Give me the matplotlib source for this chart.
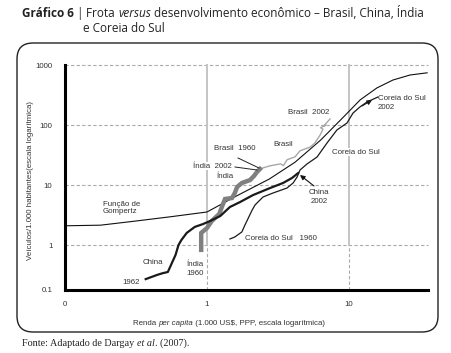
import matplotlib
matplotlib.use("Agg")
import matplotlib.pyplot as plt
from matplotlib.patches import FancyBboxPatch
from matplotlib.transforms import IdentityTransform
from matplotlib.lines import Line2D

# ---------------- data ----------------
gompertz_x = [0.1, 0.178, 0.311, 0.55, 1.0, 1.62, 2.75, 4.17, 6.31, 9.12, 12.0, 15.7, 20.4, 26.9, 35.5]
gompertz_y = [2.09, 2.14, 2.5, 2.95, 3.55, 6.6, 12.6, 24.0, 56.0, 135, 263, 414, 562, 681, 741]

brasil_x = [2.36, 2.78, 3.30, 3.45, 3.66, 4.17, 4.52, 5.31, 5.75, 6.25, 6.56, 6.30, 6.89, 6.60, 7.35]
brasil_y = [18.6, 20.9, 22.5, 21.0, 26.3, 29.5, 37.2, 42.7, 50.1, 67.6, 85.1, 90.0, 100, 95.0, 126]

india_x = [0.91, 0.91, 1.0, 1.08, 1.22, 1.28, 1.34, 1.50, 1.57, 1.63, 1.76, 2.01, 2.14, 2.25, 2.36]
india_y = [0.83, 1.59, 1.92, 2.51, 3.29, 4.47, 5.85, 6.07, 7.36, 9.27, 10.8, 12.1, 14.1, 16.5, 18.5]

china_x = [0.37, 0.45, 0.49, 0.53, 0.57, 0.60, 0.63, 0.66, 0.72, 0.82, 0.94, 1.05,
           1.24, 1.45, 1.71, 2.11, 2.78, 3.43, 3.97, 4.38]
china_y = [0.27, 0.32, 0.34, 0.355, 0.52, 0.68, 1.0, 1.21, 1.59, 2.0, 2.24, 2.51,
           3.04, 4.3, 5.2, 6.8, 8.9, 10.8, 13.1, 15.8]

coreia_x = [1.45, 1.57, 1.76, 1.85, 2.08, 2.18, 2.48, 2.92, 3.66, 4.04, 4.31, 4.52,
            5.06, 5.96, 7.00, 8.22, 9.68, 10.67, 11.94, 13.40, 16.0]
coreia_y = [1.26, 1.36, 1.65, 2.15, 3.83, 4.65, 6.31, 7.36, 8.91, 10.8, 13.6, 17.8,
            22.4, 29.3, 50.1, 82.6, 108, 158, 200, 242, 293]

x_ticks = [0.1, 1, 10]
x_ticklabels = ["0", "1", "10"]
y_ticks = [10 ** -0.75, 1, 10, 100, 1000]
y_ticklabels = ["0.1", "1", "10", "100", "1000"]

W, H = 452, 353
fig = plt.figure(figsize=(W / 100, H / 100), dpi=100)
fig.patch.set_facecolor("white")


def fx(px):
    return px / W


def fy(py):
    return 1 - py / H


LAB = dict(family="Liberation Sans", fontsize=5.7, color="#333333")

# ---------------- axes ----------------
ax_l, ax_r, ax_t, ax_b = 65, 428, 65, 290
ax = fig.add_axes([fx(ax_l), fy(ax_b), (ax_r - ax_l) / W, (ax_b - ax_t) / H])
ax.set_xscale("log")
ax.set_yscale("log")
ax.set_xlim(0.1, 10 ** ((ax_r - 207) / 142))
ax.set_ylim(10 ** -0.75, 1000)
ax.set_xticks(x_ticks)
ax.set_xticklabels(x_ticklabels)
ax.set_yticks(y_ticks)
ax.set_yticklabels(y_ticklabels)
ax.minorticks_off()
ax.tick_params(length=0, labelsize=5.7, labelcolor="#333333")
ax.tick_params(axis="y", pad=9)
ax.tick_params(axis="x", pad=8)
for lbl in ax.get_xticklabels() + ax.get_yticklabels():
    lbl.set_family("Liberation Sans")
for s in ["top", "right"]:
    ax.spines[s].set_visible(False)
for s in ["left", "bottom"]:
    ax.spines[s].set_linewidth(2.2)
    ax.spines[s].set_color("black")
    ax.spines[s].set_zorder(10)

ymin = 10 ** -0.75
for yv in [1, 10, 100, 1000]:
    ax.axhline(yv, color="#aaaaaa", lw=0.8, ls=(0, (3, 2)), zorder=1, clip_on=False)
for xv in [1, 10]:
    ax.plot([xv, xv], [1, 1000], color="#c4c4c4", lw=1.4, zorder=1, clip_on=False)
    ax.plot([xv, xv], [ymin, 1], color="#aaaaaa", lw=0.8, ls=(0, (3, 2)), zorder=1)

ax.plot(gompertz_x, gompertz_y, color="#111111", lw=0.8, zorder=3)
ax.plot(brasil_x, brasil_y, color="#a8a8a8", lw=1.0, zorder=3)
ax.plot(india_x, india_y, color="#808080", lw=3.2, zorder=4, solid_joinstyle="miter")
ax.plot(china_x, china_y, color="#1a1a1a", lw=1.6, zorder=5)
ax.plot(coreia_x, coreia_y, color="#1a1a1a", lw=0.9, zorder=5)

# ---------------- labels inside plot ----------------
def lab(x, y, s, ha="left", bg=True, **kw):
    d = dict(LAB)
    d.update(kw)
    t = fig.text(fx(x), fy(y), s, ha=ha, va="center", zorder=20, **d)
    if bg:
        t.set_bbox(dict(facecolor="white", edgecolor="none", pad=0.4))
    return t


lab(288, 112, "Brasil  2002")
lab(273, 144, "Brasil")
lab(214, 149, "Brasil  1960")
lab(193, 166, "Índia  2002")
lab(216, 177, "Índia")
fig.text(fx(103), fy(208), "Função de\nGompertz", ha="left", va="center",
         linespacing=1.15, **LAB)
lab(143, 263, "China", bg=False)
lab(122, 282, "1962", bg=False)
t = fig.text(fx(195), fy(269), "Índia\n1960", ha="center", va="center",
             linespacing=1.35, zorder=20, **LAB)
t.set_bbox(dict(facecolor="white", edgecolor="none", pad=0.3))
lab(245, 238, "Coreia do Sul   1960")
fig.text(fx(319), fy(197), "China\n2002", ha="center", va="center",
         linespacing=1.35, zorder=20, **LAB)
lab(332, 152, "Coreia do Sul")
fig.text(fx(378), fy(103), "Coreia do Sul\n2002", ha="left", va="center",
         linespacing=1.35, zorder=20, **LAB)

# leader lines and arrows (figure pixel coordinates)
for (x0, y0, x1, y1) in [(238, 158, 259, 168), (235, 167, 257, 170)]:
    fig.add_artist(Line2D([fx(x0), fx(x1)], [fy(y0), fy(y1)], color="#222222",
                          lw=0.7, transform=fig.transFigure, zorder=20))
ax.annotate("", xy=(fx(300), fy(175)), xycoords="figure fraction",
            xytext=(fx(314), fy(186)), textcoords="figure fraction",
            arrowprops=dict(arrowstyle="-|>", color="#111111", lw=0.8,
                            mutation_scale=7, shrinkA=0, shrinkB=0))
ax.annotate("", xy=(fx(372), fy(100)), xycoords="figure fraction",
            xytext=(fx(362), fy(106)), textcoords="figure fraction",
            arrowprops=dict(arrowstyle="-|>", color="#111111", lw=0.8,
                            mutation_scale=7, shrinkA=0, shrinkB=0))

# ---------------- axis titles ----------------
fig.text(fx(31), fy(181), "Veículos/1.000 habitantes(escala logarítmica)",
         rotation=90, ha="center", va="center", **LAB)

renderer = fig.canvas.get_renderer()


def pieces(x, y, parts, **kw):
    arts = []
    for s, style, weight in parts:
        t = fig.text(fx(x), fy(y), s, style=style, weight=weight, ha="left",
                     va="baseline", **kw)
        bb = t.get_window_extent(renderer=renderer)
        x += bb.width
        arts.append(t)
    return arts, x


xl_parts = [("Renda ", "normal", "normal"), ("per capita", "italic", "normal"),
            (" (1.000 US$, PPP, escala logarítmica)", "normal", "normal")]
arts, xend = pieces(0, 325, xl_parts, **LAB)
shift = 229 - xend / 2
for a in arts:
    a.set_x(a.get_position()[0] + shift / W)

# ---------------- frame box ----------------
box = FancyBboxPatch((17, H - 332), 421, 332 - 43,
                     boxstyle="round,pad=0,rounding_size=16",
                     transform=IdentityTransform(), facecolor="none",
                     edgecolor="#222222", lw=1.0, zorder=0)
fig.add_artist(box)

# ---------------- title ----------------
TIT = dict(family="Open Sans", fontsize=8.5, color="#222222")
pieces(22, 17, [("Gráfico 6", "normal", "bold"), (" | ", "normal", "normal"),
                ("Frota ", "normal", "normal"), ("versus", "italic", "normal"),
                (" desenvolvimento econômico – Brasil, China, Índia", "normal", "normal")],
       **TIT)
fig.text(fx(83), fy(32), "e Coreia do Sul", ha="left", va="baseline", **TIT)

# ---------------- source ----------------
SRC = dict(family="Liberation Serif", fontsize=7.3, color="#222222")
pieces(22, 346, [("Fonte: Adaptado de Dargay ", "normal", "normal"),
                 ("et al", "italic", "normal"), (". (2007).", "normal", "normal")],
       **SRC)

fig.savefig("out.png", dpi=100)
